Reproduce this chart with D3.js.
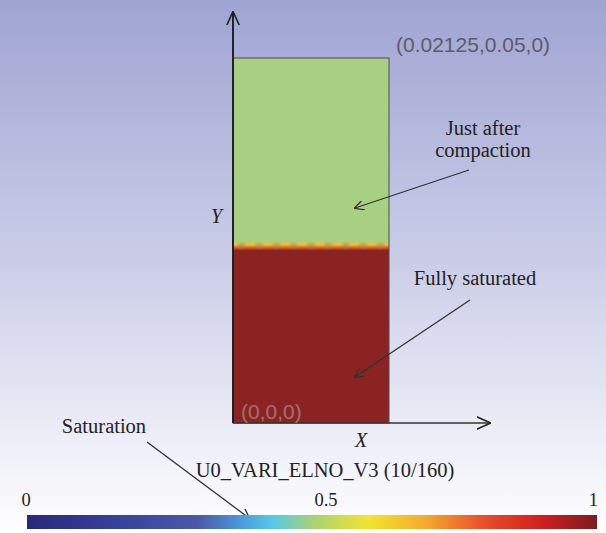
<!DOCTYPE html>
<html>
<head>
<meta charset="utf-8">
<script src="https://cdn.jsdelivr.net/npm/d3@7"></script>
<style>
  body { margin: 0; }
  svg { display: block; }
  .serif { font-family: "Liberation Serif", "DejaVu Serif", serif; fill: #222; }
  .coord { font-family: "Liberation Sans", Arial, sans-serif; font-size: 21px; }
</style>
</head>
<body>
<svg width="606" height="533"></svg>
<script>
var svg = d3.select("svg")
var W = 606, H = 533

// domain of the sample (m)
var domainX = [0, 0.02125]
var domainY = [0, 0.05]
var axisEnd = [0.0349, 0.0562]

// saturation front position and mesh columns
var frontY = 0.0243
var meshCols = 9

// colorbar
var barTicks = [0, 0.5, 1]
var barStops = [0, 0.15, 0.3, 0.38, 0.43, 0.5, 0.6, 0.7, 0.8, 0.9, 1]
var barColors = ["#2a2878", "#36409a", "#4a5aa8", "#4a9edc", "#56c8ea", "#a6d276", "#f2e42e", "#f4aa2e", "#e8502a", "#d2201e", "#7c1c1e"]
var barTitle = "U0_VARI_ELNO_V3 (10/160)"

var colSat = "#8b2323"
var colDry = "#a8d082"

var x = d3.scaleLinear().domain(domainX).range([233, 389])
var y = d3.scaleLinear().domain(domainY).range([423, 58])
var cb = d3.scaleLinear().domain([0, 1]).range([27, 597])

var defs = svg.append("defs")

var bg = defs.append("linearGradient").attr("id", "bg")
    .attr("x1", "0%").attr("y1", "0%").attr("x2", "0%").attr("y2", "100%")
bg.append("stop").attr("offset", "0%").style("stop-color", "#9fa4d2")
bg.append("stop").attr("offset", "50%").style("stop-color", "#cccee8")
bg.append("stop").attr("offset", "100%").style("stop-color", "#ffffff")

var bar = defs.append("linearGradient").attr("id", "bar")
barStops.forEach(function(s, i) {
    bar.append("stop").attr("offset", (s * 100) + "%").style("stop-color", barColors[i])
})

var front = defs.append("linearGradient").attr("id", "front")
    .attr("x1", "0%").attr("y1", "0%").attr("x2", "0%").attr("y2", "100%")
front.append("stop").attr("offset", "0%").style("stop-color", colDry)
front.append("stop").attr("offset", "35%").style("stop-color", "#f0c030")
front.append("stop").attr("offset", "60%").style("stop-color", "#e8702a")
front.append("stop").attr("offset", "100%").style("stop-color", colSat)

defs.append("marker").attr("id", "arr")
    .attr("viewBox", "0 0 10 10").attr("refX", 9).attr("refY", 5)
    .attr("markerWidth", 10).attr("markerHeight", 10)
    .attr("markerUnits", "userSpaceOnUse").attr("orient", "auto")
    .append("path").attr("d", "M0,0L10,5L0,10")
    .attr("fill", "none").attr("stroke", "#333").attr("stroke-width", 1.3)

defs.append("marker").attr("id", "axarr")
    .attr("viewBox", "0 0 10 10").attr("refX", 9).attr("refY", 5)
    .attr("markerWidth", 14).attr("markerHeight", 14)
    .attr("markerUnits", "userSpaceOnUse").attr("orient", "auto")
    .append("path").attr("d", "M0,0.5L10,5L0,9.5")
    .attr("fill", "none").attr("stroke", "#222").attr("stroke-width", 1.1)

defs.append("filter").attr("id", "soft")
    .append("feGaussianBlur").attr("stdDeviation", 1.2)

svg.append("rect").attr("width", W).attr("height", H).attr("fill", "url(#bg)")

// sample: dry part on top, saturated part below
svg.append("rect")
    .attr("x", x(0)).attr("y", y(domainY[1]))
    .attr("width", x(domainX[1]) - x(0)).attr("height", y(frontY) - y(domainY[1]))
    .attr("fill", colDry)
svg.append("rect")
    .attr("x", x(0)).attr("y", y(frontY))
    .attr("width", x(domainX[1]) - x(0)).attr("height", y(0) - y(frontY))
    .attr("fill", colSat)
svg.append("rect")
    .attr("x", x(0)).attr("y", y(frontY) - 4)
    .attr("width", x(domainX[1]) - x(0)).attr("height", 9)
    .attr("fill", "url(#front)")

var cellW = (domainX[1] - domainX[0]) / meshCols
svg.selectAll(".blob").data(d3.range(meshCols)).enter().append("ellipse")
    .attr("class", "blob")
    .attr("cx", function(i) { return x((i + 0.5) * cellW) })
    .attr("cy", y(frontY))
    .attr("rx", 4).attr("ry", 3)
    .attr("fill", "#8c8a5a").attr("opacity", 0.45)
    .attr("filter", "url(#soft)")

svg.append("rect")
    .attr("x", x(0)).attr("y", y(domainY[1]))
    .attr("width", x(domainX[1]) - x(0)).attr("height", y(0) - y(domainY[1]))
    .attr("fill", "none").attr("stroke", "#4a4a5a").attr("stroke-width", 1)

// axes
svg.append("line")
    .attr("x1", x(0)).attr("y1", y(0)).attr("x2", x(0)).attr("y2", y(axisEnd[1]))
    .attr("stroke", "#222").attr("stroke-width", 2).attr("marker-end", "url(#axarr)")
svg.append("line")
    .attr("x1", x(0)).attr("y1", y(0)).attr("x2", x(axisEnd[0])).attr("y2", y(0))
    .attr("stroke", "#333").attr("stroke-width", 1.5).attr("marker-end", "url(#axarr)")

svg.append("text").attr("class", "serif")
    .attr("x", x(0) - 22).attr("y", 223)
    .style("font-size", "20px").style("font-style", "italic")
    .text("Y")
svg.append("text").attr("class", "serif")
    .attr("x", 355).attr("y", 447)
    .style("font-size", "20px").style("font-style", "italic")
    .text("X")

svg.append("text").attr("class", "coord")
    .attr("x", x(domainX[1]) + 7).attr("y", y(domainY[1]) - 6)
    .attr("fill", "#5c5c66")
    .text("(" + domainX[1] + "," + domainY[1] + ",0)")
svg.append("text").attr("class", "coord")
    .attr("x", x(0) + 8).attr("y", y(0) - 4)
    .attr("fill", "#a07070")
    .text("(0,0,0)")

// annotations
function note(lines, cx, by) {
    var t = svg.append("text").attr("class", "serif")
        .attr("text-anchor", "middle").style("font-size", "20.5px")
    lines.forEach(function(l, i) {
        t.append("tspan").attr("x", cx).attr("y", by + i * 22).text(l)
    })
}
function arrow(x1, y1, x2, y2) {
    svg.append("line")
        .attr("x1", x1).attr("y1", y1).attr("x2", x2).attr("y2", y2)
        .attr("stroke", "#333").attr("stroke-width", 1.3)
        .attr("marker-end", "url(#arr)")
}

note(["Just after", "compaction"], 483, 135)
arrow(469, 170, 355, 208)
note(["Fully saturated"], 475, 285)
arrow(470, 300, 355, 377)
note(["Saturation"], 104, 433)
arrow(147, 442, 249, 518)

// colorbar
svg.append("text").attr("class", "serif")
    .attr("x", cb(0.5) + 13).attr("y", 477)
    .attr("text-anchor", "middle").style("font-size", "20.5px")
    .text(barTitle)

svg.append("rect")
    .attr("x", cb(0)).attr("y", 515)
    .attr("width", cb(1) - cb(0)).attr("height", 14)
    .attr("fill", "url(#bar)")

svg.selectAll(".tick").data(barTicks).enter().append("text")
    .attr("class", "serif tick")
    .attr("x", function(d) { return d == 0 ? cb(d) - 1 : d == 1 ? cb(d) + 1 : cb(d) + 14 })
    .attr("y", 506)
    .attr("text-anchor", function(d) { return d == 0 ? "middle" : d == 1 ? "end" : "middle" })
    .style("font-size", "18.5px")
    .text(function(d) { return d })
</script>
</body>
</html>
